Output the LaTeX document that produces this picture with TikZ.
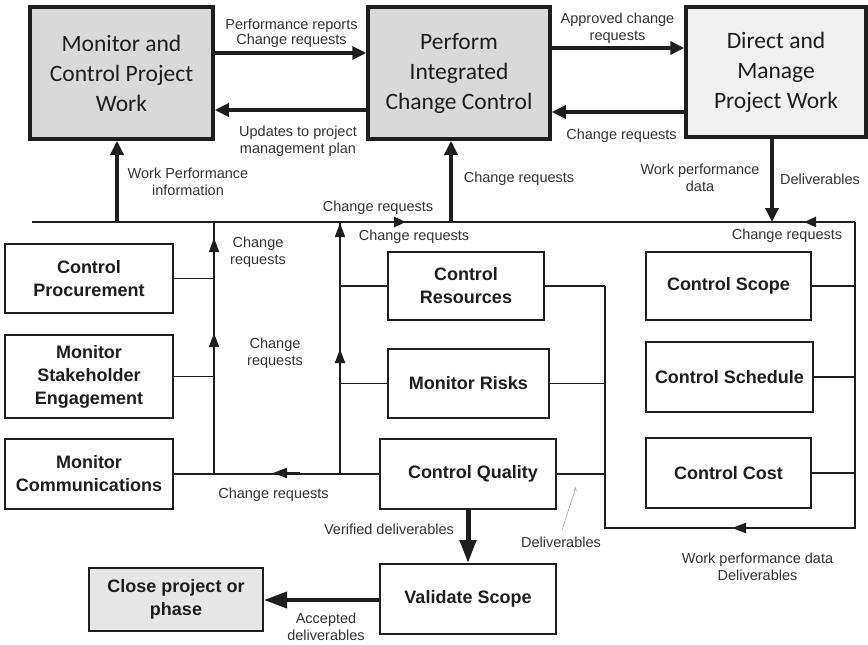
\documentclass[tikz,border=0pt]{standalone}
\usepackage{fontspec}
\setmainfont{Liberation Sans}
\newfontfamily\calib{Carlito}
\usetikzlibrary{arrows.meta}
\definecolor{boxgray}{HTML}{D9D9D9}
\definecolor{boxlight}{HTML}{F0F0F0}
\definecolor{closegray}{HTML}{E6E6E6}
\definecolor{lbl}{HTML}{333333}
\definecolor{ink}{HTML}{1E1E1E}
\begin{document}
\begin{tikzpicture}[x=1pt,y=-1pt,
  bigbox/.style={draw=ink, line width=3.5pt, fill=boxgray, align=center, inner sep=0pt,
     font=\calib\fontsize{23.5}{30}\selectfont, text=ink},
  smallbox/.style={draw=ink, line width=2pt, fill=white, align=center, inner sep=0pt,
     font=\bfseries\fontsize{18}{23}\selectfont, text=ink},
  lab/.style={align=center, inner sep=0pt, text=lbl, font=\fontsize{14.5}{17}\selectfont},
  conn/.style={draw=ink, line width=1.8pt},
  busline/.style={draw=ink, line width=2.5pt},
  thick/.style={draw=ink, line width=3.3pt},
  bigtip/.style={-{Triangle[length=14pt,width=13pt]}},
  smalltip/.style={-{Triangle[length=14pt,width=10pt]}},
  hugetip/.style={-{Triangle[length=23pt,width=16pt]}}
]
\useasboundingbox (0,0) rectangle (868,645);

% ---- top boxes
\node[bigbox, minimum width=183pt, minimum height=132pt] (mcpw) at (121.5,73) {Monitor and\\Control Project\\Work};
\node[bigbox, minimum width=182pt, minimum height=132pt] (picc) at (459,73) {Perform\\Integrated\\Change Control};
\node[bigbox, fill=boxlight, minimum width=180pt, minimum height=130pt] (dmpw) at (776,72) {Direct and\\Manage\\Project Work};

% ---- small boxes
\node[smallbox, minimum width=168pt, minimum height=69pt] (cproc) at (89,278.5) {Control\\Procurement};
\node[smallbox, minimum width=168pt, minimum height=83pt] (mstake) at (89,376.5) {Monitor\\Stakeholder\\Engagement};
\node[smallbox, minimum width=168pt, minimum height=70pt] (mcomm) at (89,474) {Monitor\\Communications};
\node[smallbox, minimum width=156pt, minimum height=68pt] (cres) at (466,286) {Control\\Resources};
\node[smallbox, minimum width=161pt, minimum height=69pt] (mrisk) at (468.5,383.5) {Monitor Risks};
\node[smallbox, minimum width=176pt, minimum height=70pt] (cqual) at (468,474) {\hspace*{10pt}Control Quality};
\node[smallbox, minimum width=176pt, minimum height=70pt] (vscope) at (468,599) {Validate Scope};
\node[smallbox, fill=closegray, minimum width=174pt, minimum height=63pt] (close) at (176,599.5) {Close project or\\phase};
\node[smallbox, minimum width=165pt, minimum height=68pt] (cscope) at (728.5,286) {Control Scope};
\node[smallbox, minimum width=167pt, minimum height=70pt] (csched) at (729.5,377) {Control Schedule};
\node[smallbox, minimum width=165pt, minimum height=70pt] (ccost) at (728.5,473) {Control Cost};

% ---- helper coordinates
\coordinate (busL) at (32,222);
\coordinate (rc) at (855,222);
\coordinate (rb) at (855,528);
\coordinate (jR) at (605,528);
\coordinate (jRt) at (605,286);
\coordinate (jL) at (214,222);
\coordinate (jLb) at (214,473);
\coordinate (jM) at (340,222);
\coordinate (jMb) at (340,473);
\coordinate (y53) at (0,53);
\coordinate (y110) at (0,110);
\coordinate (y48) at (0,48);
\coordinate (y112) at (0,112);
\coordinate (x117) at (117,0);
\coordinate (x451) at (451,0);
\coordinate (x772) at (772,0);
\coordinate (x468) at (468,0);
\coordinate (y600) at (0,600);

% ---- top arrows
\draw[thick, bigtip] (mcpw.east |- y53) -- (picc.west |- y53);
\draw[thick, bigtip] (picc.west |- y110) -- (mcpw.east |- y110);
\draw[thick, bigtip] (picc.east |- y48) -- (dmpw.west |- y48);
\draw[thick, bigtip] (dmpw.west |- y112) -- (picc.east |- y112);
\draw[thick, bigtip] (x117 |- busL) -- (x117 |- mcpw.south);
\draw[thick, bigtip] (x451 |- busL) -- (x451 |- picc.south);
\draw[thick, bigtip] (x772 |- dmpw.south) -- (x772 |- busL);

% ---- bus
\draw[busline] (busL) -- (rc);
\coordinate (ba1) at (406,222);
\coordinate (ba1s) at (380,222);
\draw[busline, -{Triangle[length=12pt,width=10pt]}] (ba1s) -- (ba1);
\coordinate (ba2) at (804,222);
\coordinate (ba2s) at (830,222);
\draw[busline, -{Triangle[length=12pt,width=10pt]}] (ba2s) -- (ba2);

% ---- right loop
\draw[conn] (rc) -- (rb) -- (jR) -- (jRt);
\coordinate (ra) at (732,528);
\coordinate (ras) at (760,528);
\draw[conn, smalltip] (ras) -- (ra);
\draw[conn] (cscope.east) -- (cscope.east -| rc);
\draw[conn] (csched.east) -- (csched.east -| rc);
\draw[conn] (ccost.east) -- (ccost.east -| rc);
\draw[conn] (cres.east) -- (cres.east -| jR);
\draw[conn] (mrisk.east) -- (mrisk.east -| jR);
\draw[conn] (cqual.east) -- (cqual.east -| jR);

% ---- left verticals
\draw[conn] (cqual.west) -- (mcomm.east);
\coordinate (la) at (273,473);
\coordinate (las) at (300,473);
\draw[conn, smalltip] (las) -- (la);
\draw[conn] (jMb) -- (jM);
\draw[conn] (jLb) -- (jL);
\draw[conn, smalltip] (340,260) coordinate (m1s) -- (340,223) coordinate (m1);
\draw[conn, smalltip] (340,380) coordinate (m2s) -- (340,349) coordinate (m2);
\draw[conn, smalltip] (214,265) coordinate (l1s) -- (214,238) coordinate (l1);
\draw[conn, smalltip] (214,360) coordinate (l2s) -- (214,333) coordinate (l2);
\draw[conn] (cres.west) -- (cres.west -| jM);
\draw[conn] (mrisk.west) -- (mrisk.west -| jM);
\draw[conn] (cproc.east) -- (cproc.east -| jL);
\draw[conn] (mstake.east) -- (mstake.east -| jL);

% ---- bottom arrows
\draw[draw=ink, line width=5pt, hugetip] (x468 |- cqual.south) -- (x468 |- vscope.north);
\draw[draw=ink, line width=3.8pt, hugetip] (vscope.west |- y600) -- (close.east |- y600);

% ---- gray pointer
\coordinate (gp1) at (562,530);
\coordinate (gp2) at (576,487);
\draw[gray!70, line width=0.6pt, -{To[length=4pt,width=4pt]}] (gp1) -- (gp2);

% ---- labels
\node[lab, font=\fontsize{14.5}{15}\selectfont] (t1) at (291.5,33) {Performance reports\\Change requests};
\node[lab] (t2) at (298,141) {Updates to project\\management plan};
\node[lab] (t3) at (617.5,28) {Approved change\\requests};
\node[lab] (t4) at (621.5,136) {Change requests};
\node[lab] (t5) at (519,179) {Change requests};
\node[lab] (t6) at (700,178) {Work performance\\data};
\node[lab] (t7) at (820,179) {Deliverables};
\node[lab] (t8) at (188,182) {Work Performance\\information};
\node[lab] (t9) at (378,208) {Change requests};
\node[lab] (t10) at (787,236) {Change requests};
\node[lab] (t11) at (414,237) {Change requests};
\node[lab] (t12) at (258,252) {Change\\requests};
\node[lab] (t13) at (275,353) {Change\\requests};
\node[lab] (t14) at (273.5,495) {Change requests};
\node[lab] (t15) at (389,529) {Verified deliverables};
\node[lab] (t16) at (561,542) {Deliverables};
\node[lab] (t17) at (757.5,567) {Work performance data\\Deliverables};
\node[lab] (t18) at (326,627) {Accepted\\deliverables};
\end{tikzpicture}
\end{document}
